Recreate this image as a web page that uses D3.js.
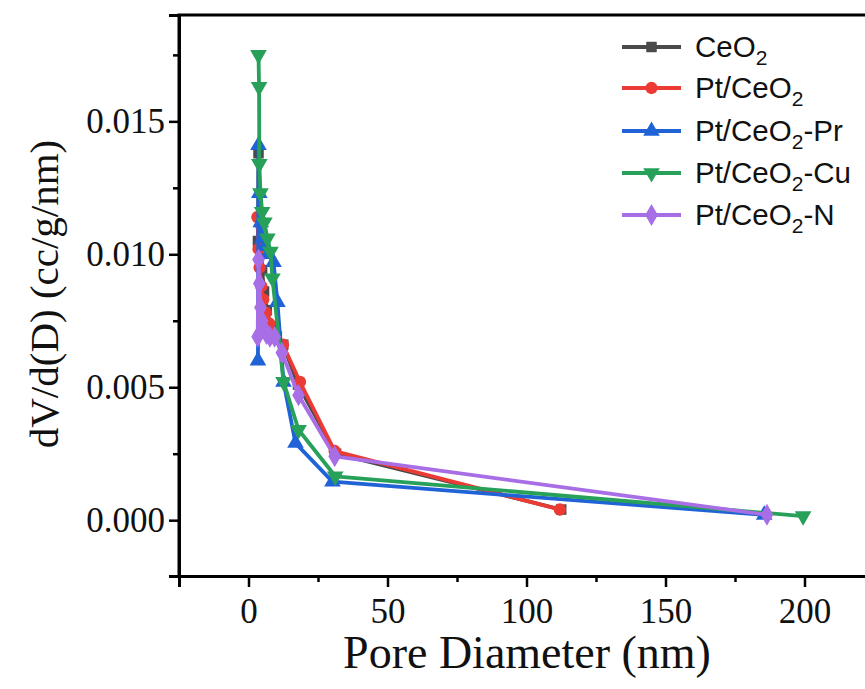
<!DOCTYPE html>
<html><head><meta charset="utf-8">
<script src="https://cdn.jsdelivr.net/npm/d3@7/dist/d3.min.js"></script>
<style>body{margin:0;background:#fff}svg{display:block}</style>
</head><body>
<svg id="c" width="865" height="689"></svg>
<script>
// ---- data ----
const seriesNames = ["CeO2", "Pt/CeO2", "Pt/CeO2-Pr", "Pt/CeO2-Cu", "Pt/CeO2-N"];
const ceo2X = [3.4, 3.6, 4.3, 4.9, 5.6, 6.6, 8.0, 10.2, 12.5, 17.8, 31.5, 112.5];
const ceo2Y = [0.0105, 0.0138, 0.0112, 0.0094, 0.0086, 0.0079, 0.0073, 0.0069, 0.0066, 0.0051, 0.0025, 0.0004];
const ptX = [3.2, 3.6, 4.0, 4.6, 5.3, 6.2, 7.4, 9.2, 12.4, 18.5, 31.0, 112.0];
const ptY = [0.0114, 0.0102, 0.0095, 0.0088, 0.0083, 0.0078, 0.0074, 0.0070, 0.0066, 0.0052, 0.0026, 0.0004];
const prX = [3.4, 3.6, 3.9, 4.4, 5.0, 5.9, 7.0, 9.0, 10.4, 12.6, 16.9, 30.2, 185.5];
const prY = [0.0060, 0.0141, 0.0123, 0.0112, 0.0106, 0.0103, 0.0100, 0.0097, 0.0082, 0.0052, 0.0029, 0.00145, 0.0002];
const cuX = [3.6, 3.8, 3.9, 4.3, 4.9, 5.7, 6.8, 7.9, 8.6, 12.6, 18.0, 31.2, 199.5];
const cuY = [0.0175, 0.0163, 0.0134, 0.0123, 0.0116, 0.0112, 0.0106, 0.0101, 0.0091, 0.0052, 0.0034, 0.00165, 0.00015];
const nX = [3.3, 3.6, 3.9, 4.3, 4.9, 5.6, 6.5, 7.7, 9.4, 12.0, 18.0, 31.0, 186.5];
const nY = [0.0069, 0.0098, 0.0089, 0.0080, 0.0075, 0.0072, 0.0070, 0.0069, 0.0069, 0.0063, 0.0047, 0.0024, 0.0002];
const xTicks = [0, 50, 100, 150, 200];
const yTicks = [0.000, 0.005, 0.010, 0.015];

const colors = ["#4a4a4a", "#ec3b35", "#1f63d6", "#27a05a", "#a86ee6"];
const symbols = [d3.symbolSquare, d3.symbolCircle, d3.symbolTriangle, d3.symbolTriangle, d3.symbolDiamond];
const rot = [0, 0, 0, 180, 0];
const sizes = [110, 120, 120, 120, 140];
const xs = [ceo2X, ptX, prX, cuX, nX];
const ys = [ceo2Y, ptY, prY, cuY, nY];

const svg = d3.select("#c");
const L = 179, R = 874, T = 15, B = 576;
const x = d3.scaleLinear().domain([-25, 225]).range([L, R]);
const y = d3.scaleLinear().domain([-0.0021, 0.019]).range([B, T]);

const plot = svg.append("g");
const line = d3.line().x(d => x(d[0])).y(d => y(d[1]));
for (let i = 0; i < 5; i++) {
  const pts = xs[i].map((v, j) => [v, ys[i][j]]);
  const g = plot.append("g");
  g.append("path").datum(pts).attr("d", line).attr("fill", "none")
    .attr("stroke", colors[i]).attr("stroke-width", 3.8).attr("stroke-linejoin", "round");
  g.selectAll("path.m").data(pts).join("path").attr("class", "m")
    .attr("d", d3.symbol().type(symbols[i]).size(sizes[i]))
    .attr("fill", colors[i])
    .attr("transform", d => `translate(${x(d[0])},${y(d[1])}) rotate(${rot[i]})`);
}

// axes
const font = "'Liberation Serif','Times New Roman',serif";
const xAxis = svg.append("g").attr("transform", `translate(0,${B})`)
  .call(d3.axisBottom(x).tickValues(xTicks).tickSize(11).tickPadding(11).tickFormat(d3.format("d")));
const yAxis = svg.append("g").attr("transform", `translate(${L},0)`)
  .call(d3.axisLeft(y).tickValues(yTicks).tickSize(10).tickPadding(4).tickFormat(d3.format(".3f")));
// minor ticks
svg.append("g").attr("transform", `translate(0,${B})`)
  .call(d3.axisBottom(x).tickValues([-25, 25, 75, 125, 175]).tickSize(6).tickFormat(""))
  .call(g => g.select(".domain").remove());
svg.append("g").attr("transform", `translate(${L},0)`)
  .call(d3.axisLeft(y).tickValues([0.0025, 0.0075, 0.0125, 0.0175]).tickSize(6).tickFormat(""))
  .call(g => g.select(".domain").remove());
svg.selectAll(".domain").attr("stroke", "#000").attr("stroke-width", 3);
svg.selectAll(".tick line").attr("stroke", "#000").attr("stroke-width", 2.5);
[xAxis, yAxis].forEach(a => a.selectAll("text").attr("font-family", font).attr("font-size", 35).attr("fill", "#111"));
// top spine
svg.append("line").attr("x1", L - 1.5).attr("x2", 865).attr("y1", T).attr("y2", T)
  .attr("stroke", "#000").attr("stroke-width", 3);
svg.append("line").attr("x1", L).attr("x2", L).attr("y1", T).attr("y2", B)
  .attr("stroke", "#000").attr("stroke-width", 3);

// titles
svg.append("text").attr("x", 527).attr("y", 668).attr("text-anchor", "middle")
  .attr("font-family", font).attr("font-size", 46).attr("fill", "#111").text("Pore Diameter (nm)");
svg.append("text").attr("transform", "translate(58,294) rotate(-90)").attr("text-anchor", "middle")
  .attr("font-family", font).attr("font-size", 41).attr("fill", "#111").text("dV/d(D) (cc/g/nm)");

// legend
const legY = [47, 88, 131, 173, 215];
const lg = svg.append("g");
seriesNames.forEach((name, i) => {
  const gy = legY[i];
  lg.append("line").attr("x1", 622).attr("x2", 681).attr("y1", gy).attr("y2", gy)
    .attr("stroke", colors[i]).attr("stroke-width", 3.8);
  lg.append("path").attr("d", d3.symbol().type(symbols[i]).size(sizes[i])())
    .attr("fill", colors[i]).attr("transform", `translate(651.5,${gy}) rotate(${rot[i]})`);
  const t = lg.append("text").attr("x", 695).attr("y", gy + 10)
    .attr("font-family", "'Liberation Sans',Arial,sans-serif").attr("font-size", 29.5).attr("fill", "#111");
  const parts = name.split("O2");
  t.append("tspan").text(parts[0] + "O");
  t.append("tspan").attr("font-size", 21).attr("dy", 8).text("2");
  if (parts[1]) t.append("tspan").attr("dy", -8).text(parts[1]);
});
</script>
</body></html>
